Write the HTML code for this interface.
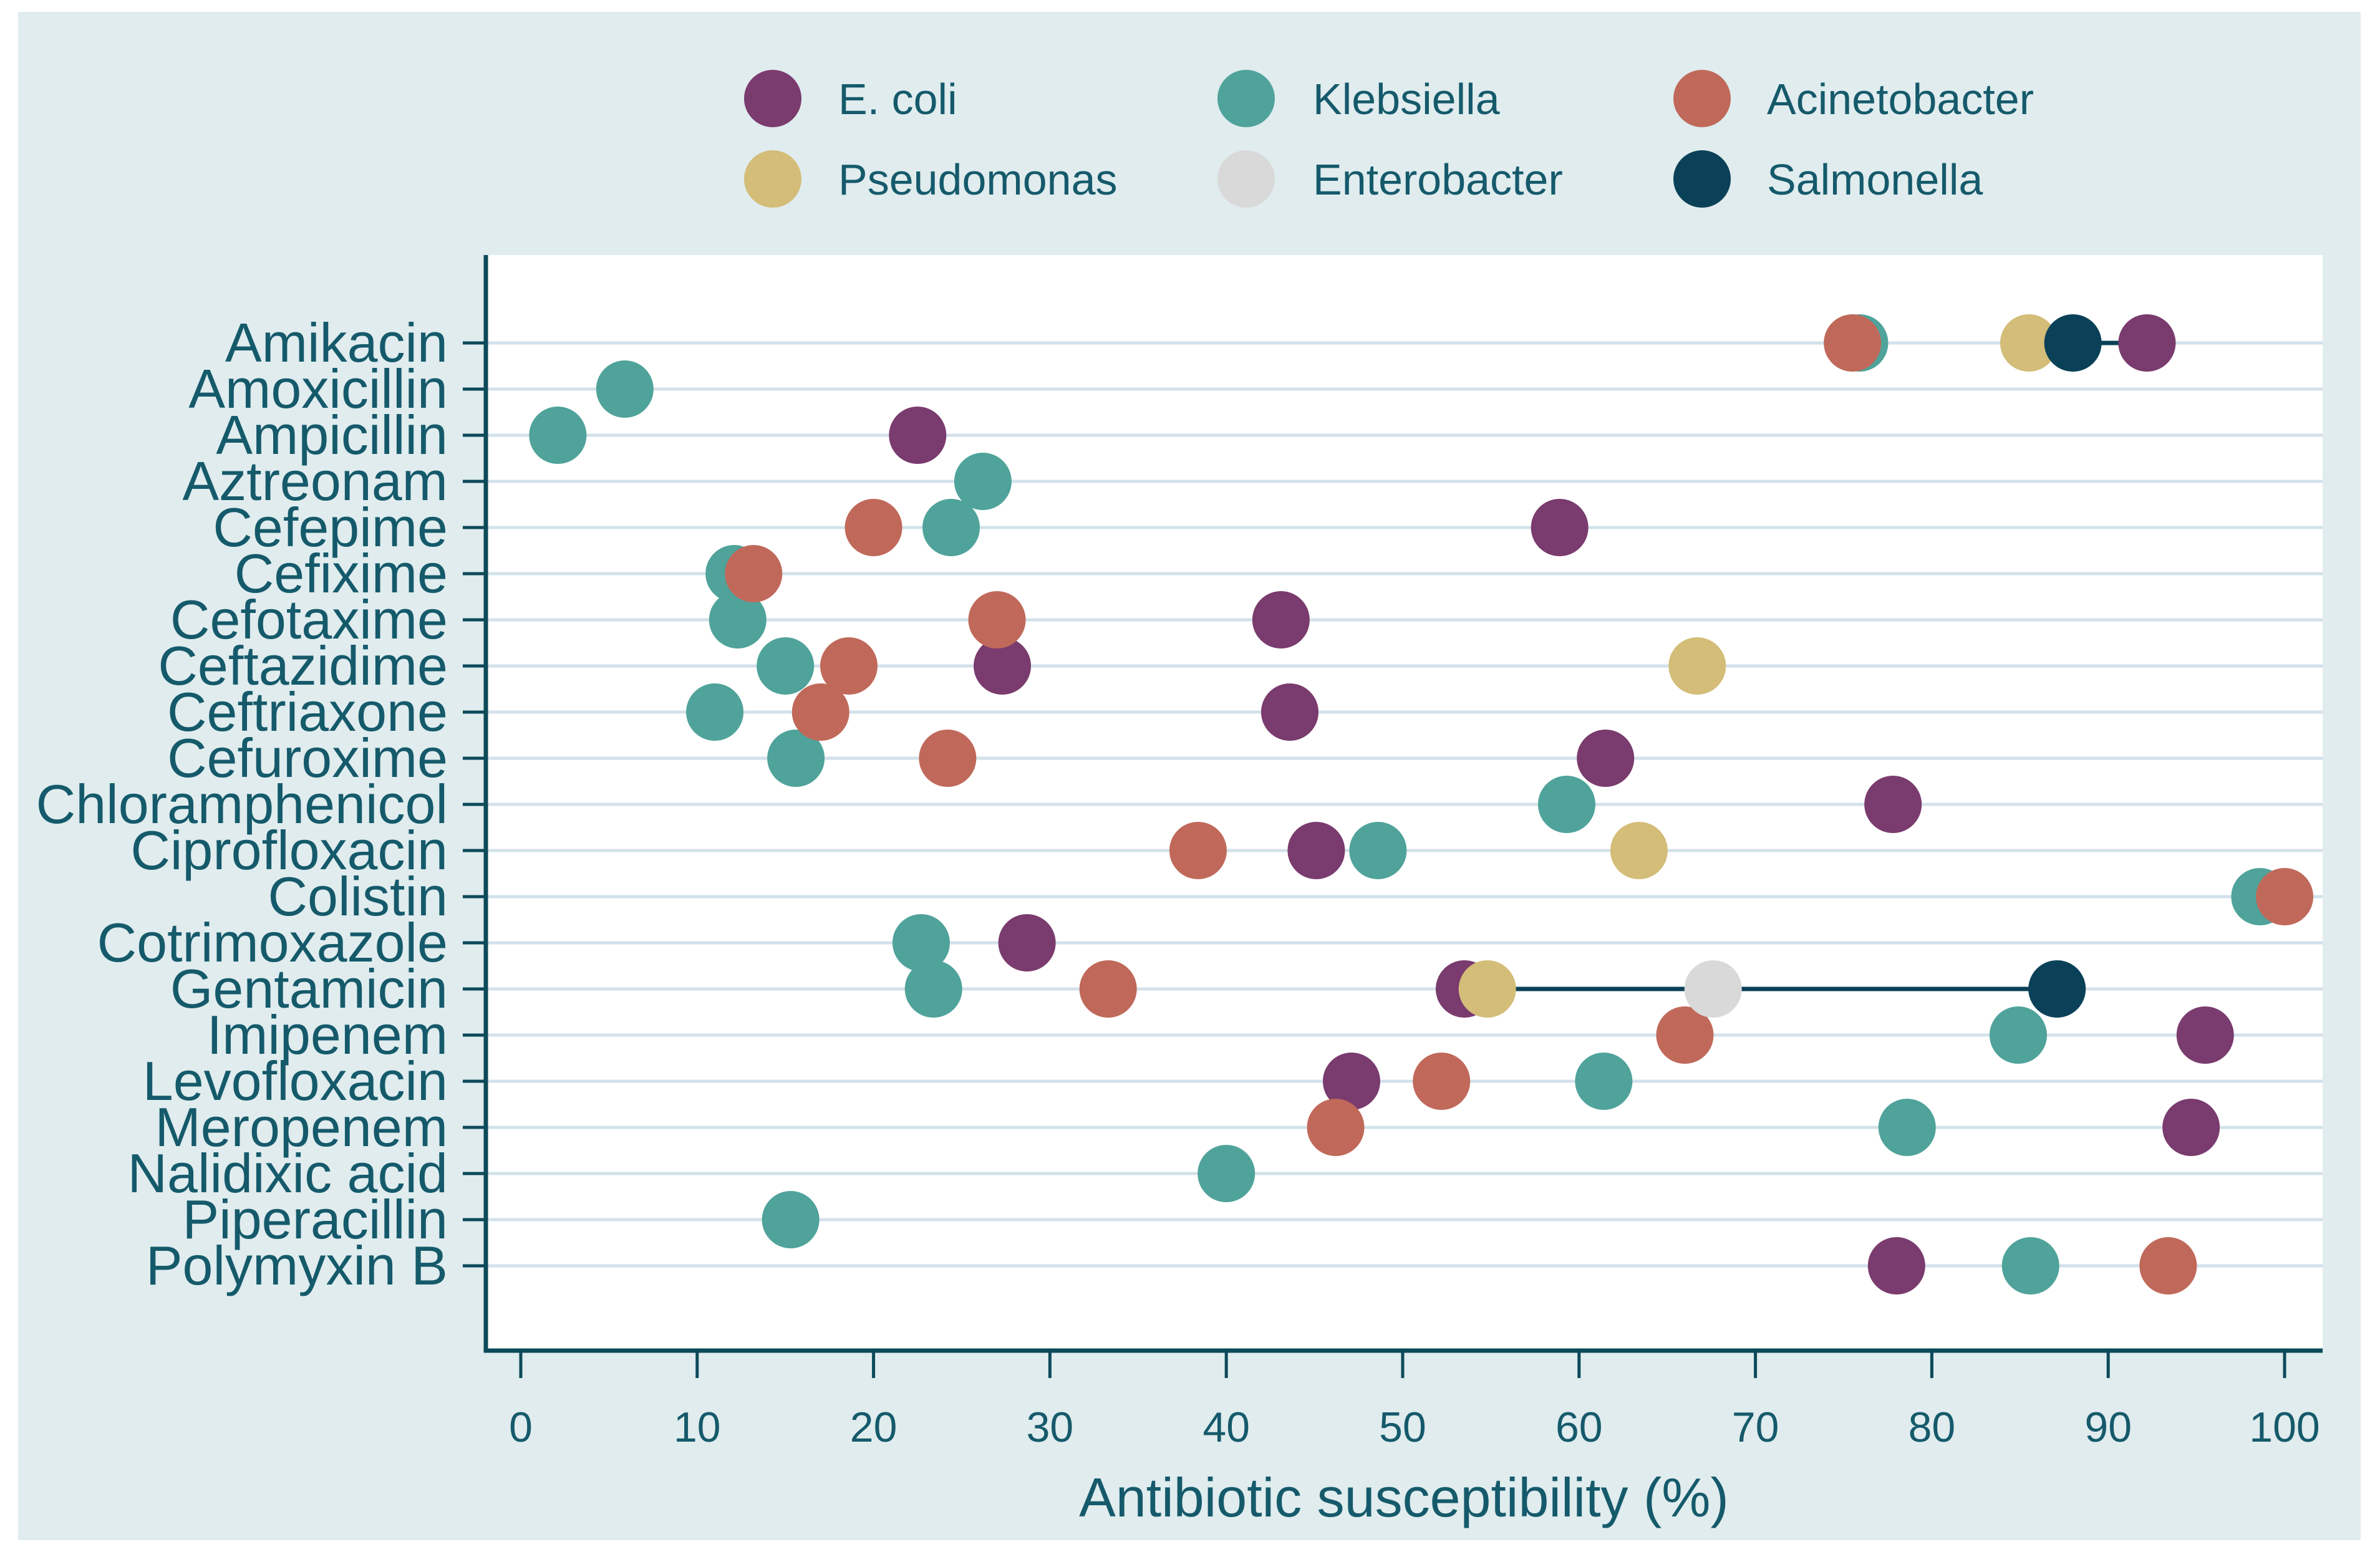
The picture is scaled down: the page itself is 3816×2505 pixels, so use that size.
<!DOCTYPE html>
<html><head><meta charset="utf-8"><style>
html,body{margin:0;padding:0;background:#fff;}
svg{display:block;font-family:"Liberation Sans",sans-serif;}
</style></head><body>
<svg id="chart" width="3816" height="2505" viewBox="0 0 3816 2505">
<rect x="29" y="19" width="3756" height="2451" fill="#e0ecee"/>
<rect x="779" y="409" width="2945" height="1757" fill="#ffffff"/>
<g id="grid"></g>
<g id="lines"></g>
<g id="dots"></g>
<g id="axes"></g>
<g id="legend"></g>
<text x="2251" y="2432" font-size="88" fill="#155a6b" text-anchor="middle">Antibiotic susceptibility (%)</text>
</svg>
<script>
const antibiotics = ["Amikacin","Amoxicillin","Ampicillin","Aztreonam","Cefepime","Cefixime","Cefotaxime","Ceftazidime","Ceftriaxone","Cefuroxime","Chloramphenicol","Ciprofloxacin","Colistin","Cotrimoxazole","Gentamicin","Imipenem","Levofloxacin","Meropenem","Nalidixic acid","Piperacillin","Polymyxin B"];
const xTicks = [0,10,20,30,40,50,60,70,80,90,100];
const seriesNames = ["E. coli","Klebsiella","Acinetobacter","Pseudomonas","Enterobacter","Salmonella"];
const seriesColors = ["#7a3b6e","#4fa39a","#c0695a","#d3bd78","#d9d9d9","#0a4158"];
const ecoli = [92.2,null,22.5,null,58.9,null,43.1,27.3,43.6,61.5,77.8,45.1,null,28.7,53.5,95.5,47.1,94.7,null,null,78];
const klebsiella = [75.9,5.9,2.1,26.2,24.4,12.1,12.3,15,11,15.6,59.3,48.6,98.6,22.7,23.4,84.9,61.4,78.6,40,15.3,85.6];
const acinetobacter = [75.5,null,null,null,20,13.2,27,18.6,17,24.2,null,38.4,100,null,33.3,66,52.2,46.2,null,null,93.4];
const pseudomonas = [85.5,null,null,null,null,null,null,66.7,null,null,null,63.4,null,null,54.8,null,null,null,null,null,null];
const enterobacter = [null,null,null,null,null,null,null,null,null,null,null,null,null,null,67.6,null,null,null,null,null,null];
const salmonella = [88,null,null,null,null,null,null,null,null,null,null,null,null,null,87.1,null,null,null,null,null,null];
const lineRows = ["Amikacin","Gentamicin"];
const lineFrom = [88,54.8];
const lineTo = [92.2,87.1];

const NS="http://www.w3.org/2000/svg";
const X0=835, X1=3663, Y0=550, STEP=74, R=46;
const xs=v=>X0+(X1-X0)*v/100;
const ys=i=>Y0+STEP*i;
function mk(tag,attrs,parent){const e=document.createElementNS(NS,tag);for(const k in attrs)e.setAttribute(k,attrs[k]);parent.appendChild(e);return e;}
const grid=document.getElementById('grid'),axes=document.getElementById('axes'),dots=document.getElementById('dots'),lines=document.getElementById('lines'),legend=document.getElementById('legend');
antibiotics.forEach((name,i)=>{
  const g=mk('line',{x1:779,x2:3724,y1:ys(i),y2:ys(i),stroke:'#d3e2ea','stroke-width':5},grid);
  
  
  const t=mk('line',{x1:742,x2:779,y1:ys(i),y2:ys(i),stroke:'#0d4a5a','stroke-width':5},axes);
  
  
  const l=mk('text',{x:718,y:ys(i)+30,'font-size':88,fill:'#155a6b','text-anchor':'end'},axes);
  l.textContent=name;
  
  
});
xTicks.forEach(v=>{
  const t=mk('line',{x1:xs(v),x2:xs(v),y1:2166,y2:2210,stroke:'#0d4a5a','stroke-width':5},axes);
  
  
  const l=mk('text',{x:xs(v),y:2312,'font-size':68,fill:'#155a6b','text-anchor':'middle'},axes);
  l.textContent=v;
  
  
});
const ya=mk('line',{x1:779,x2:779,y1:409,y2:2169,stroke:'#0d4a5a','stroke-width':7},axes);


const xa=mk('line',{x1:776,x2:3724,y1:2166,y2:2166,stroke:'#0d4a5a','stroke-width':7},axes);


lineRows.forEach((r,k)=>{
  const i=antibiotics.indexOf(r);
  const ln=mk('line',{x1:xs(lineFrom[k]),x2:xs(lineTo[k]),y1:ys(i),y2:ys(i),stroke:'#0a4158','stroke-width':7},lines);
  
  
});
const allSeries=[ecoli,klebsiella,acinetobacter,pseudomonas,enterobacter,salmonella];
allSeries.forEach((arr,s)=>{
  arr.forEach((v,i)=>{
    if(v===null)return;
    const c=mk('circle',{cx:xs(v),cy:ys(i),r:R,fill:seriesColors[s]},dots);
    
    
  });
});
const legX=[1239,1998,2729], legTX=[1344,2105,2833], legY=[158,287];
seriesNames.forEach((n,s)=>{
  const col=s%3,row=Math.floor(s/3);
  const c=mk('circle',{cx:legX[col],cy:legY[row],r:46,fill:seriesColors[s]},legend);
  
  
  const t=mk('text',{x:legTX[col],y:legY[row]+25,'font-size':70,fill:'#155a6b'},legend);
  t.textContent=n;
  
  
});
</script>
</body></html>
